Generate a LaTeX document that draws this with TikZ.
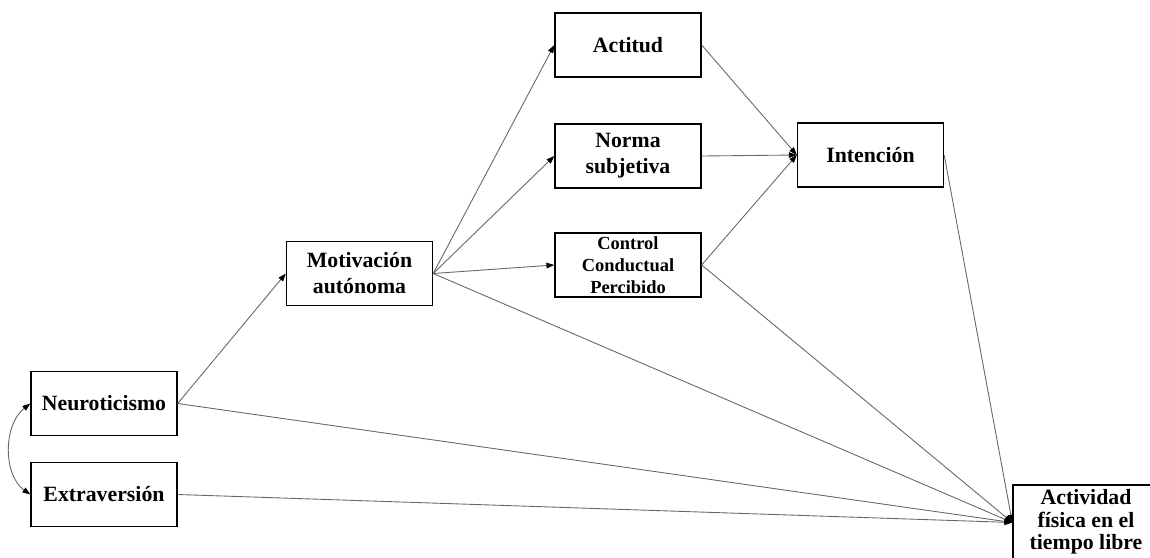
\documentclass[tikz,border=0pt]{standalone}
\usepackage{fontspec}
\setmainfont{Liberation Serif}
\usetikzlibrary{arrows.meta}
\begin{document}
\begin{tikzpicture}[x=0.02cm,y=-0.02cm,
  box/.style={draw=black,line width=0.8pt,minimum width=2.92cm,minimum height=1.28cm,inner sep=1pt,align=center,
    font=\bfseries\fontsize{12.4}{14.8}\selectfont},
  smallbox/.style={box,font=\bfseries\fontsize{10.5}{12.5}\selectfont},
  path/.style={draw=black!60,line width=0.5pt,-{Triangle[length=4.5pt,width=3.2pt,fill=black,color=black]}}]
\useasboundingbox (0,0) rectangle (1150,558);
\node[box] (neuro) at (104,403.5) {Neuroticismo};
\node[box] (extra) at (104,494.5) {Extraversión};
\node[box] (motiv) at (359.5,273.5) {Motivación\\autónoma};
\node[box] (act) at (628,45) {Actitud};
\node[box] (norma) at (628,156) {Norma\\subjetiva};
\node[smallbox] (ctrl) at (628,265) {Control\\Conductual\\Percibido};
\node[box] (inten) at (870.5,155) {Intención};
\node[box,minimum height=1.5cm] (afl) at (1086,522.5) {};
\node[font=\bfseries\fontsize{12.4}{12.8}\selectfont,align=center,inner sep=0pt] (afltext) at (1086,522) {Actividad\\física en el\\tiempo libre};
\draw[path] (neuro.east) -- (motiv.west);
\draw[path] (motiv.east) -- (act.west);
\draw[path] (motiv.east) -- (norma.west);
\draw[path] (motiv.east) -- (ctrl.west);
\draw[path] (act.east) -- (inten.west);
\draw[path] (norma.east) -- (inten.west);
\draw[path] (ctrl.east) -- (inten.west);
\draw[path] (motiv.east) -- (afl.west);
\draw[path] (ctrl.east) -- (afl.west);
\draw[path] (inten.east) -- (afl.west);
\draw[path] (neuro.east) -- (afl.west);
\draw[path] (extra.east) -- (afl.west);
\draw[draw=black!60,line width=0.5pt,{Triangle[length=4.5pt,width=3.2pt,fill=black,color=black]}-{Triangle[length=4.5pt,width=3.2pt,fill=black,color=black]}]
  (neuro.west) .. controls (3,425) and (3,475) .. (extra.west);
\end{tikzpicture}
\end{document}
